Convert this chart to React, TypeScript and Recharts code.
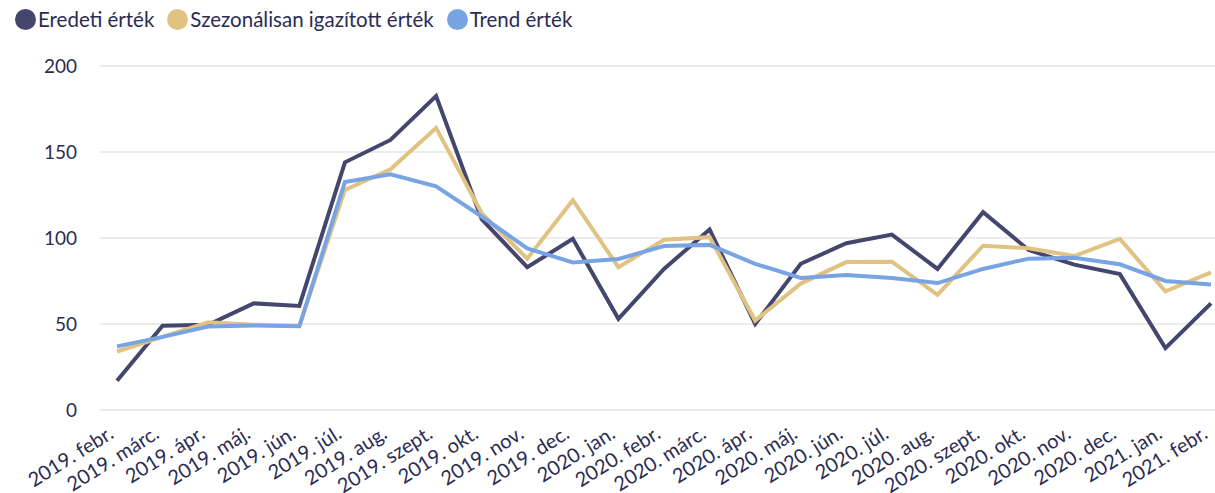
import { LineChart, Line, XAxis, YAxis, CartesianGrid } from "recharts";

const months = [
  "2019. febr.", "2019. márc.", "2019. ápr.", "2019. máj.", "2019. jún.",
  "2019. júl.", "2019. aug.", "2019. szept.", "2019. okt.", "2019. nov.",
  "2019. dec.", "2020. jan.", "2020. febr.", "2020. márc.", "2020. ápr.",
  "2020. máj.", "2020. jún.", "2020. júl.", "2020. aug.", "2020. szept.",
  "2020. okt.", "2020. nov.", "2020. dec.", "2021. jan.", "2021. febr.",
];

const eredeti = [17, 49, 49.5, 62, 60.5, 144, 157, 182.5, 111, 83, 99.5, 53, 82, 105, 50, 85, 97, 102, 82, 115, 93, 84.5, 79, 36, 62];
const szezonalis = [34, 42.5, 51, 49.5, 48.8, 128, 140, 164, 114.5, 88, 122, 83, 99, 100.5, 52, 73.5, 86, 86.2, 67, 95.5, 94, 89.5, 99.5, 69, 80];
const trend = [37, 42.5, 48.5, 49.2, 48.7, 132.5, 137, 130, 112.5, 94, 85.8, 87.8, 95.3, 96, 85, 76.8, 78.5, 76.8, 73.8, 82, 88, 88.5, 84.7, 75, 73];

const yTicks = [0, 50, 100, 150, 200];

const series = [
  { key: "eredeti", name: "Eredeti érték", color: "#44466e" },
  { key: "szezonalis", name: "Szezonálisan igazított érték", color: "#e0c382" },
  { key: "trend", name: "Trend érték", color: "#78a4e3" },
];

const data = months.map((m, i) => ({
  month: m,
  eredeti: eredeti[i],
  szezonalis: szezonalis[i],
  trend: trend[i],
}));

const textColor = "#2b2c53";
const font = "Lato, 'Open Sans', sans-serif";

function MonthTick(props: any) {
  const { x, y, payload } = props;
  const ax = x - 2;
  const ay = y + 19;
  return (
    <text
      x={ax}
      y={ay}
      textAnchor="end"
      fill={textColor}
      fontSize={20}
      fontFamily={font}
      transform={`rotate(-32, ${ax}, ${ay})`}
    >
      {payload.value}
    </text>
  );
}

export default function App() {
  return (
    <div
      style={{
        position: "absolute",
        left: 0,
        top: 0,
        width: 1215,
        height: 493,
        background: "#fff",
        fontFamily: font,
      }}
    >
      <div
        style={{
          position: "absolute",
          top: 7,
          left: 15,
          display: "flex",
          alignItems: "center",
          fontSize: 20.5,
          color: textColor,
          whiteSpace: "nowrap",
        }}
      >
        {series.map((s) => (
          <div key={s.key} style={{ display: "flex", alignItems: "center", marginRight: 13 }}>
            <span
              style={{
                display: "inline-block",
                width: 21,
                height: 21,
                borderRadius: "50%",
                background: s.color,
                marginRight: 2,
              }}
            />
            <span>{s.name}</span>
          </div>
        ))}
      </div>
      <LineChart
        width={1215}
        height={493}
        data={data}
        margin={{ top: 66, right: 0, left: 0, bottom: 0 }}
      >
        <CartesianGrid vertical={false} stroke="#ececec" strokeWidth={2} />
        <XAxis
          dataKey="month"
          interval={0}
          height={83}
          axisLine={false}
          tickLine={false}
          padding={{ left: 17, right: 4 }}
          tick={<MonthTick />}
        />
        <YAxis
          domain={[0, 200]}
          ticks={yTicks}
          width={100}
          axisLine={false}
          tickLine={false}
          tickSize={0}
          tickMargin={23}
          tick={{ fill: textColor, fontSize: 19, fontFamily: font }}
        />
        {series.map((s) => (
          <Line
            key={s.key}
            type="linear"
            dataKey={s.key}
            name={s.name}
            stroke={s.color}
            strokeWidth={4}
            dot={false}
            activeDot={false}
            isAnimationActive={false}
          />
        ))}
      </LineChart>
    </div>
  );
}
